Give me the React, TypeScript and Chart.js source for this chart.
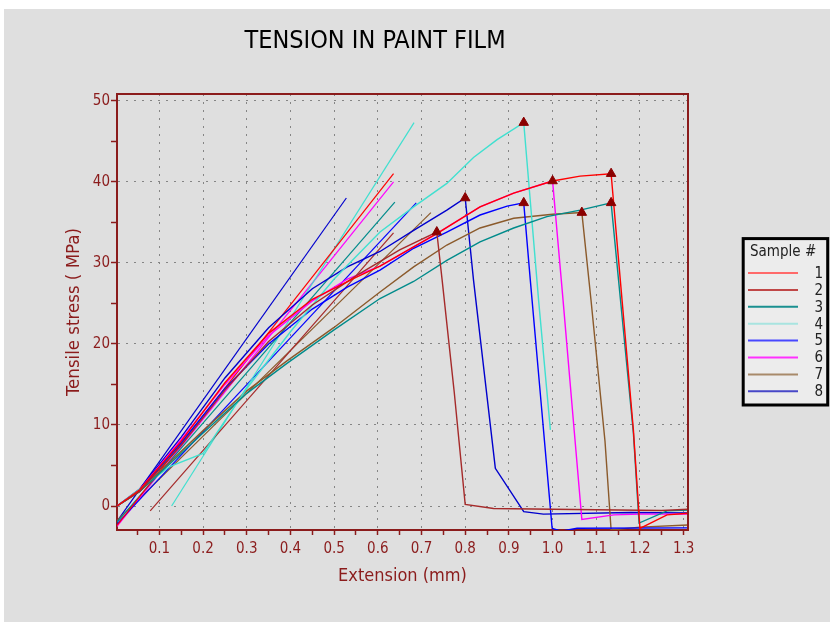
import React, { useEffect, useRef } from "react";
import { Chart, registerables } from "chart.js";

Chart.register(...registerables);

// ---------- data ----------
const chartTitle = "TENSION IN PAINT FILM";
const xTitle = "Extension (mm)";
const yTitle = "Tensile stress ( MPa)";
const legendTitle = "Sample #";
const sampleNames = ["1", "2", "3", "4", "5", "6", "7", "8"];

// measured stress–extension curves [extension mm, stress MPa]
const curve1: [number, number][] = [
  [0.003, 0], [0.055, 2.0], [0.15, 8.0], [0.25, 15.2], [0.35, 21.3], [0.45, 25.5], [0.55, 28.2],
  [0.605, 29.6], [0.735, 33.6], [0.834, 36.9], [0.911, 38.6], [1.0, 40.1], [1.063, 40.7], [1.134, 41.0],
  [1.155, 27.9], [1.185, 9.4], [1.2, -2.75], [1.262, -1.1], [1.31, -0.9],
];
const curve2: [number, number][] = [
  [0.003, 0], [0.055, 1.8], [0.15, 7.5], [0.25, 14.3], [0.35, 20.3], [0.45, 24.8], [0.55, 28.4],
  [0.65, 31.6], [0.735, 33.8], [0.747, 28.0], [0.775, 14.0], [0.8, 0.2], [0.865, -0.3], [1.0, -0.4],
  [1.25, -0.55], [1.31, -0.4],
];
const curve3: [number, number][] = [
  [0.003, 0], [0.055, 1.8], [0.1, 4.0], [0.2, 9.0], [0.3, 13.9], [0.392, 17.6], [0.499, 21.7],
  [0.605, 25.6], [0.682, 27.7], [0.758, 30.3], [0.834, 32.6], [0.911, 34.3], [0.987, 35.7],
  [1.063, 36.5], [1.134, 37.4], [1.151, 27.9], [1.185, 9.0], [1.198, -2.1], [1.262, -0.6], [1.31, -0.5],
];
const curve4: [number, number][] = [
  [0.003, 0], [0.055, 2.1], [0.125, 4.9], [0.2, 6.5], [0.3, 14.5], [0.4, 21.5], [0.5, 28.0],
  [0.605, 33.8], [0.682, 36.9], [0.758, 39.8], [0.819, 43.0], [0.873, 45.2], [0.934, 47.3],
  [0.968, 25.4], [0.995, 9.4],
];
const curve5: [number, number][] = [
  [0.003, 0], [0.055, 1.9], [0.15, 7.8], [0.25, 14.5], [0.35, 20.0], [0.45, 24.3], [0.53, 27.0],
  [0.605, 29.1], [0.682, 31.8], [0.758, 33.8], [0.834, 35.9], [0.896, 37.0], [0.934, 37.4],
  [0.949, 27.9], [0.975, 12.0], [0.999, -2.75], [1.02, -3.1], [1.056, -2.75], [1.31, -2.7],
];
const curve6: [number, number][] = [
  [0.003, 0], [0.055, 2.0], [0.15, 8.2], [0.25, 15.0], [0.35, 21.0], [0.45, 25.3], [0.53, 28.0],
  [0.605, 29.6], [0.735, 33.6], [0.834, 36.9], [0.911, 38.6], [1.0, 40.1], [1.024, 25.4],
  [1.05, 9.0], [1.067, -1.65], [1.14, -1.1], [1.2, -1.0], [1.31, -1.0],
];
const curve7: [number, number][] = [
  [0.003, 0], [0.055, 1.8], [0.1, 4.2], [0.2, 9.3], [0.3, 14.2], [0.392, 17.9], [0.499, 22.0],
  [0.605, 26.4], [0.682, 29.5], [0.758, 32.2], [0.834, 34.3], [0.911, 35.5], [1.0, 36.0],
  [1.067, 36.2], [1.088, 25.4], [1.12, 8.0], [1.134, -2.96], [1.2, -2.6], [1.31, -2.35],
];
const curve8: [number, number][] = [
  [0.003, 0], [0.055, 2.1], [0.15, 8.5], [0.25, 15.8], [0.35, 22.0], [0.45, 26.8], [0.53, 29.5],
  [0.605, 31.4], [0.682, 34.0], [0.758, 36.5], [0.8, 38.0], [0.819, 27.9], [0.869, 4.65],
  [0.934, -0.7], [0.979, -1.0], [1.178, -0.8], [1.31, -0.85],
];

// linear (modulus) fit lines [extension mm, stress MPa]
const fit1: [number, number][] = [[0.003, -2.4], [0.636, 41.0]];
const fit2: [number, number][] = [[0.079, -0.6], [0.636, 33.7]];
const fit3: [number, number][] = [[0.003, -2.0], [0.639, 37.5]];
const fit4: [number, number][] = [[0.128, 0.0], [0.683, 47.3]];
const fit5: [number, number][] = [[0.003, -2.2], [0.688, 37.4]];
const fit6: [number, number][] = [[0.003, -2.5], [0.636, 40.0]];
const fit7: [number, number][] = [[0.003, -1.8], [0.7215, 36.2]];
const fit8: [number, number][] = [[0.003, -1.9], [0.528, 38.0]];

const xMajorTicks = [0.1, 0.2, 0.3, 0.4, 0.5, 0.6, 0.7, 0.8, 0.9, 1.0, 1.1, 1.2, 1.3];
const xTickLabels = ["0.1", "0.2", "0.3", "0.4", "0.5", "0.6", "0.7", "0.8", "0.9", "1.0", "1.1", "1.2", "1.3"];
const xMinorTicks = [0.05, 0.15, 0.25, 0.35, 0.45, 0.55, 0.65, 0.75, 0.85, 0.95, 1.05, 1.15, 1.25];
const yMajorTicks = [0, 10, 20, 30, 40, 50];
const yTickLabels = ["0", "10", "20", "30", "40", "50"];
const yMinorTicks = [5, 15, 25, 35, 45];

// ---------- styles ----------
const curves = [curve1, curve2, curve3, curve4, curve5, curve6, curve7, curve8];
const fits = [fit1, fit2, fit3, fit4, fit5, fit6, fit7, fit8];
const colors = ["#ff0000", "#a52a2a", "#008b8b", "#40e0d0", "#0000ff", "#ff00ff", "#8b5a2b", "#0000cd"];
const legendColors = ["#ff6a6a", "#c04848", "#1a9090", "#a8e4e0", "#4848ff", "#ff30ff", "#a88a6a", "#4848c8"];
const AXIS = "#8b1c1c";
const GRID = "#858585";
const FONT = '"DejaVu Sans Condensed", "DejaVu Sans", sans-serif';

const near = (a: number, b: number) => Math.abs(a - b) < 1e-6;
const toXY = (arr: [number, number][]) => arr.map(([x, y]) => ({ x, y }));
const peakOf = (c: [number, number][]) => c.reduce((best, p) => (p[1] > best[1] ? p : best), c[0]);

const decorPlugin = {
  id: "decor",
  beforeDraw(chart: any) {
    const ctx = chart.ctx;
    ctx.save();
    ctx.fillStyle = "#dfdfdf";
    ctx.fillRect(4, 9, 826, 613);
    ctx.restore();
  },
  afterDraw(chart: any) {
    const ctx = chart.ctx;
    const a = chart.chartArea;
    ctx.save();
    // frame (top/right)
    ctx.strokeStyle = AXIS;
    ctx.lineWidth = 2;
    ctx.beginPath();
    ctx.moveTo(a.left, a.top);
    ctx.lineTo(a.right, a.top);
    ctx.lineTo(a.right, a.bottom);
    ctx.stroke();
    // title
    ctx.fillStyle = "#000";
    ctx.font = `25px ${FONT}`;
    ctx.textAlign = "center";
    ctx.textBaseline = "alphabetic";
    ctx.fillText(chartTitle, 375, 48);
    // legend
    ctx.fillStyle = "#ececec";
    ctx.fillRect(743.2, 238.6, 84.5, 166.4);
    ctx.strokeStyle = "#000";
    ctx.lineWidth = 3;
    ctx.strokeRect(743.2, 238.6, 84.5, 166.4);
    ctx.fillStyle = "#222";
    ctx.font = `15px ${FONT}`;
    ctx.textAlign = "left";
    ctx.textBaseline = "middle";
    ctx.fillText(legendTitle, 750, 252);
    sampleNames.forEach((name, i) => {
      const y = 273 + i * 16.9;
      ctx.strokeStyle = legendColors[i];
      ctx.lineWidth = 2;
      ctx.beginPath();
      ctx.moveTo(748, y);
      ctx.lineTo(798, y);
      ctx.stroke();
      ctx.fillStyle = "#222";
      ctx.textAlign = "right";
      ctx.fillText(name, 823, y + 1);
    });
    ctx.restore();
  },
};

export default function App() {
  const ref = useRef<HTMLCanvasElement | null>(null);
  useEffect(() => {
    document.body.style.margin = "0";
    const canvas = ref.current;
    if (!canvas) return;
    const datasets: any[] = [
      {
        label: "peaks",
        data: curves.map(peakOf).map(([x, y]) => ({ x, y })),
        showLine: false,
        pointStyle: "triangle",
        pointRadius: 5.5,
        pointBackgroundColor: "#8b0000",
        pointBorderColor: "#8b0000",
        pointBorderWidth: 1,
      },
      ...curves.map((c, i) => ({
        label: "Sample " + sampleNames[i],
        data: toXY(c),
        showLine: true,
        borderColor: colors[i],
        borderWidth: 1.4,
        pointRadius: 0,
        tension: 0,
        fill: false,
      })),
      ...fits.map((f, i) => ({
        label: "Fit " + sampleNames[i],
        data: toXY(f),
        showLine: true,
        borderColor: colors[i],
        borderWidth: 1.2,
        pointRadius: 0,
        tension: 0,
        fill: false,
      })),
    ];
    const chart = new Chart(canvas, {
      type: "scatter",
      data: { datasets },
      options: {
        animation: false,
        responsive: false,
        devicePixelRatio: 1,
        events: [],
        layout: { padding: { left: 0, top: 94, right: 142, bottom: 0 } },
        plugins: { legend: { display: false }, title: { display: false }, tooltip: { enabled: false } },
        scales: {
          x: {
            type: "linear",
            position: "bottom",
            min: 0.003,
            max: 1.31,
            afterBuildTicks: (s: any) => {
              s.ticks = [...xMajorTicks, ...xMinorTicks].sort((a, b) => a - b).map((v) => ({ value: v }));
            },
            afterFit: (s: any) => {
              s.height = 100;
            },
            ticks: {
              autoSkip: false,
              maxRotation: 0,
              includeBounds: false,
              padding: 5.5,
              color: AXIS,
              font: { family: FONT, size: 15 },
              callback: (v: any) => {
                const idx = xMajorTicks.findIndex((m) => near(m, Number(v)));
                return idx >= 0 ? xTickLabels[idx] : "";
              },
            },
            grid: {
              color: (ctx: any) => (ctx.tick && xMajorTicks.some((m) => near(m, ctx.tick.value)) ? GRID : "rgba(0,0,0,0)"),
              lineWidth: 1,
              tickLength: 5,
              tickColor: AXIS,
              tickWidth: 1.5,
            },
            border: { color: AXIS, width: 2, dash: [2, 6] },
            title: {
              display: true,
              text: xTitle,
              color: AXIS,
              font: { family: FONT, size: 18 },
              padding: { top: 0, bottom: 42.5 },
            },
          },
          y: {
            type: "linear",
            position: "left",
            min: -2.96,
            max: 50.83,
            afterBuildTicks: (s: any) => {
              s.ticks = [...yMajorTicks, ...yMinorTicks].sort((a, b) => a - b).map((v) => ({ value: v }));
            },
            afterFit: (s: any) => {
              s.width = 117;
            },
            ticks: {
              autoSkip: false,
              includeBounds: false,
              padding: 1,
              color: AXIS,
              font: { family: FONT, size: 15 },
              callback: (v: any) => {
                const idx = yMajorTicks.findIndex((m) => near(m, Number(v)));
                return idx >= 0 ? yTickLabels[idx] : "";
              },
            },
            grid: {
              color: (ctx: any) => (ctx.tick && yMajorTicks.some((m) => near(m, ctx.tick.value)) ? GRID : "rgba(0,0,0,0)"),
              lineWidth: 1,
              tickLength: 6,
              tickColor: AXIS,
              tickWidth: 1.5,
            },
            border: { color: AXIS, width: 2, dash: [2, 6] },
            title: {
              display: true,
              text: yTitle,
              color: AXIS,
              font: { family: FONT, size: 18.5 },
              padding: { top: 63, bottom: 0 },
            },
          },
        },
      } as any,
      plugins: [decorPlugin],
    });
    return () => chart.destroy();
  }, []);
  return (
    <div style={{ width: 830, height: 630 }}>
      <canvas ref={ref} width={830} height={630} style={{ display: "block", width: 830, height: 630 }} />
    </div>
  );
}
